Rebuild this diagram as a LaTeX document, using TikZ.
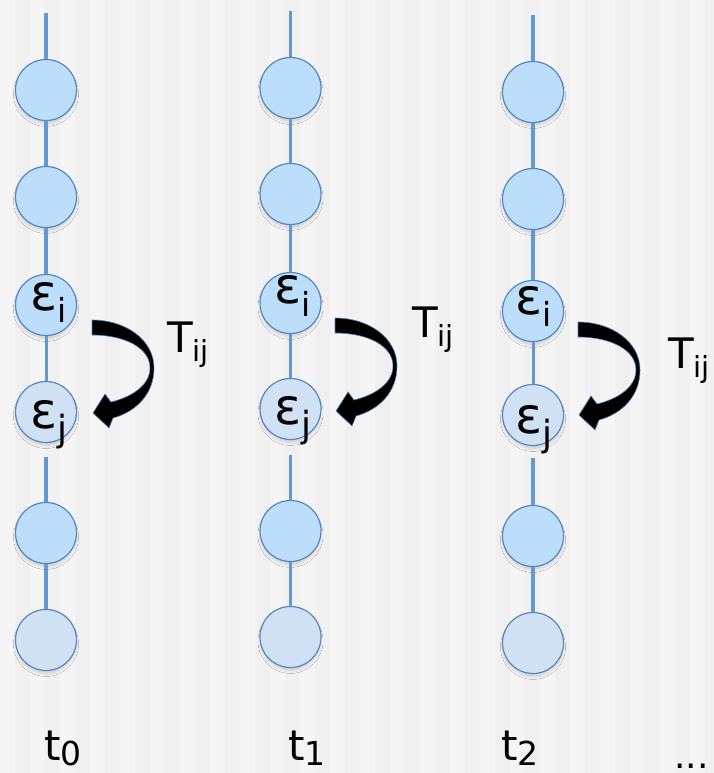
\documentclass[tikz,border=0pt]{standalone}
\usepackage{fontspec}
\setmainfont{DejaVu Sans}
\usetikzlibrary{shadows.blur}
\definecolor{bgL}{RGB}{245,245,245}
\definecolor{bgD}{RGB}{240,240,240}
\definecolor{linec}{RGB}{100,152,206}
\definecolor{rimc}{RGB}{86,134,194}
\definecolor{fillA}{RGB}{188,222,251}
\definecolor{fillB}{RGB}{208,225,243}
\definecolor{arrrim}{RGB}{80,130,190}
\newcommand\bigtxt{\fontsize{42}{42}\selectfont}
\newcommand\dotstxt{\fontsize{36}{36}\selectfont}
\newcommand\epstxt{\fontsize{50}{50}\selectfont}
\newcommand\subtxt{\fontsize{33}{33}\selectfont}
\newcommand\jsubtxt{\fontsize{36}{36}\selectfont}
\newcommand\tsubtxt{\fontsize{29}{29}\selectfont}
\begin{document}
\begin{tikzpicture}[x=1pt,y=-1pt,
  ball/.style={circle, draw=rimc, line width=1.2pt, minimum size=61pt, inner sep=0pt,
    blur shadow={shadow xshift=0pt, shadow yshift=-4pt, shadow opacity=15, shadow blur radius=3pt, shadow scale=0.97}},
  ballA/.style={ball, fill=fillA},
  ballB/.style={ball, fill=fillB},
  link/.style={draw=linec, line width=3.5pt},
  thinlink/.style={draw=linec, line width=3pt},
  lbl/.style={inner sep=0pt, anchor=base west, text=black},
  tarrow/.pic={\filldraw[fill=black, draw=arrrim, line width=0.6pt, line join=round]
    (0,0) .. controls (34,0) and (62,20) .. (62,48)
    .. controls (62,75) and (43,92) .. (21,98)
    -- (17,108) -- (1,93) -- (13,74) -- (19,82)
    .. controls (40,77) and (58,65) .. (58,48)
    .. controls (58,28) and (33,15) .. (0,15) -- cycle;}]
\useasboundingbox (0,0) rectangle (713,773);
% background stripes
\fill[bgL] (0,0) rectangle (713,773);
\foreach \i in {0,...,23} {\fill[bgD] (\i*30+15,0) rectangle ++(15,773);}

% column 0
\coordinate (a0) at (46,13);
\node[ballA] (a1) at (46,90) {};
\node[ballA] (a2) at (46,197) {};
\node[ballA] (ai) at (46,305) {};
\node[ballB] (aj) at (46,412) {};
\coordinate (ag) at (46,457);
\node[ballA] (a5) at (46,533) {};
\node[ballB] (a6) at (46,640) {};
\draw[link] (a0) -- (a1);
\draw[link] (a1) -- (a2);
\draw[link] (a2) -- (ai);
\draw[thinlink] (ai) -- (aj);
\draw[link] (ag) -- (a5);
\draw[link] (a5) -- (a6);
\node[lbl] (ei0) at (30,310) {\epstxt ε\raisebox{-12pt}{\subtxt i}};
\node[lbl] (ej0) at (30,428) {\epstxt ε\raisebox{-13pt}{\jsubtxt j}};
\pic at (92,320) {tarrow};
\node[lbl] (T0) at (167,352) {\bigtxt T\raisebox{-9pt}{\tsubtxt ij}};

% column 1
\coordinate (b0) at (290.5,11);
\node[ballA] (b1) at (290.5,88) {};
\node[ballA] (b2) at (290.5,194) {};
\node[ballA] (bi) at (290.5,303) {};
\node[ballB] (bj) at (290.5,409) {};
\coordinate (bg) at (290.5,455);
\node[ballA] (b5) at (290.5,531) {};
\node[ballB] (b6) at (290.5,637) {};
\draw[link] (b0) -- (b1);
\draw[link] (b1) -- (b2);
\draw[link] (b2) -- (bi);
\draw[thinlink] (bi) -- (bj);
\draw[link] (bg) -- (b5);
\draw[link] (b5) -- (b6);
\node[lbl] (ei1) at (274,303) {\epstxt ε\raisebox{-13pt}{\subtxt i}};
\node[lbl] (ej1) at (274,424) {\epstxt ε\raisebox{-13pt}{\jsubtxt j}};
\pic at (335,318) {tarrow};
\node[lbl] (T1) at (412,337) {\bigtxt T\raisebox{-9pt}{\tsubtxt ij}};

% column 2
\coordinate (c0) at (533,15);
\node[ballA] (c1) at (533,92) {};
\node[ballA] (c2) at (533,199) {};
\node[ballA] (ci) at (533,311) {};
\node[ballB] (cj) at (533,415) {};
\coordinate (cg) at (533,458);
\node[ballA] (c5) at (533,536) {};
\node[ballB] (c6) at (533,643) {};
\draw[link] (c0) -- (c1);
\draw[link] (c1) -- (c2);
\draw[link] (c2) -- (ci);
\draw[thinlink] (ci) -- (cj);
\draw[link] (cg) -- (c5);
\draw[link] (c5) -- (c6);
\node[lbl] (ei2) at (515,314) {\epstxt ε\raisebox{-12pt}{\subtxt i}};
\node[lbl] (ej2) at (515,433) {\epstxt ε\raisebox{-13pt}{\jsubtxt j}};
\pic at (578,322) {tarrow};
\node[lbl] (T2) at (668,368) {\bigtxt T\raisebox{-9pt}{\tsubtxt ij}};

% time labels
\node[lbl] (t0) at (44,760) {\bigtxt t\raisebox{-5pt}{\subtxt 0}};
\node[lbl] (t1) at (288,760) {\bigtxt t\raisebox{-5pt}{\subtxt 1}};
\node[lbl] (t2) at (501,760) {\bigtxt t\raisebox{-5pt}{\subtxt 2}};
\node[lbl] (dots) at (674,768) {\dotstxt ...};
\end{tikzpicture}
\end{document}
